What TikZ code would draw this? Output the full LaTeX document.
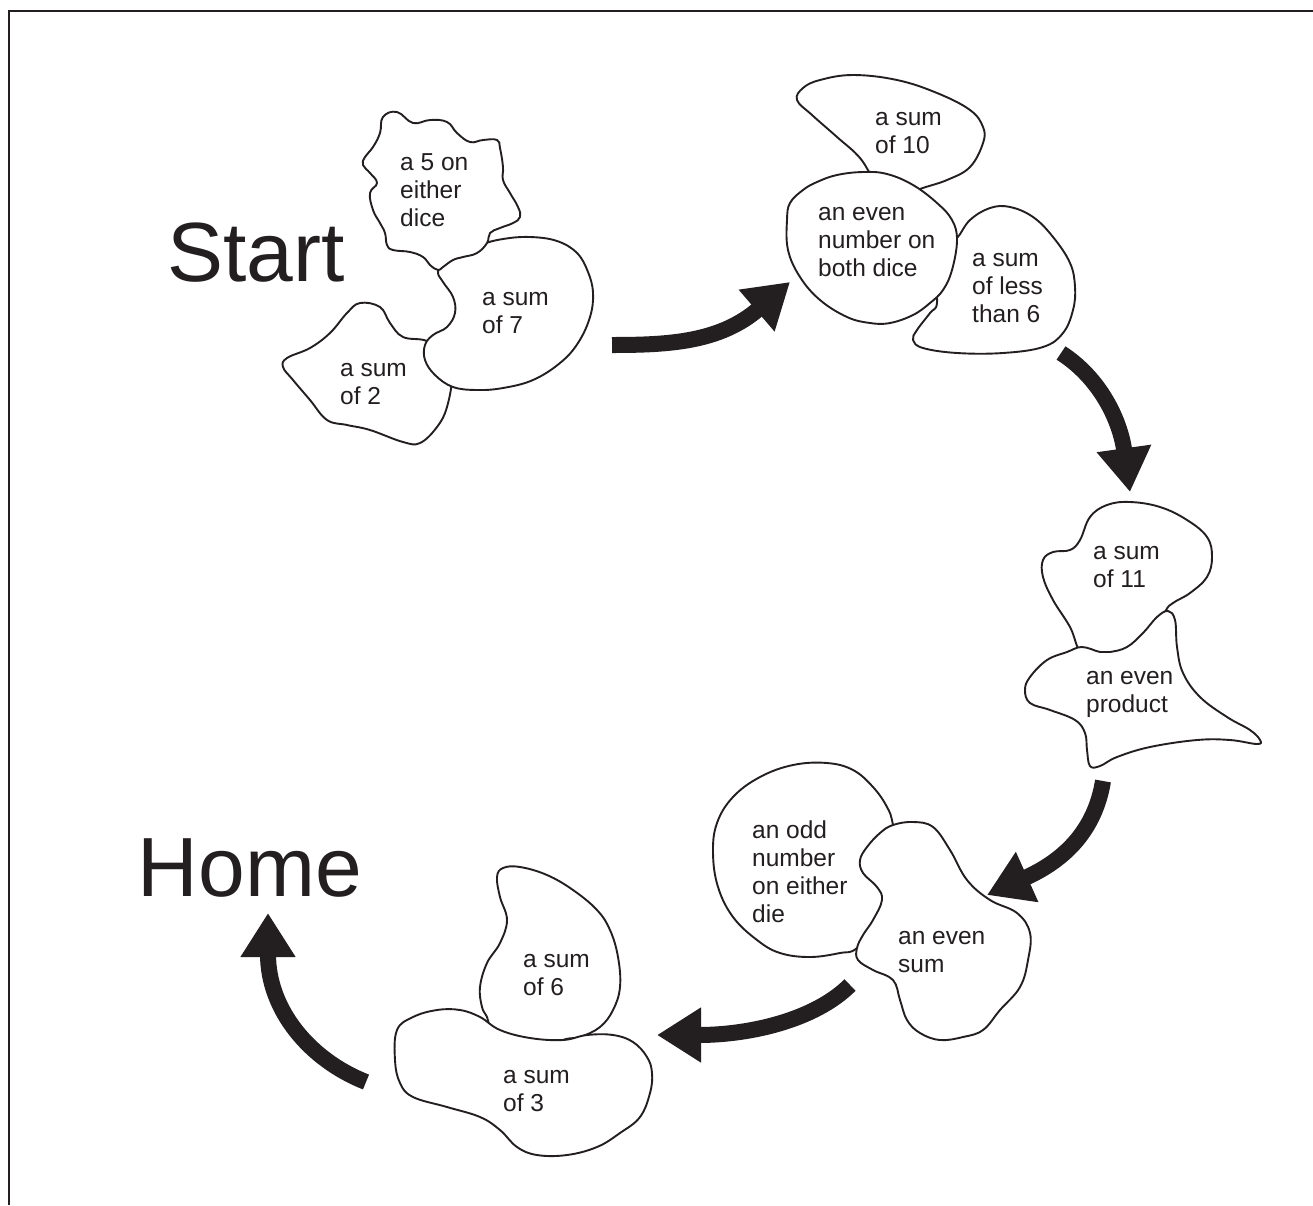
\documentclass[tikz,border=0pt]{standalone}
\usepackage{fontspec}
\setmainfont{Liberation Sans}
\usetikzlibrary{arrows.meta}
\definecolor{ink}{HTML}{231F20}
\begin{document}
\begin{tikzpicture}[x=1pt,y=-1pt,
  blob/.style={draw=ink, fill=white, line width=1.9pt, line join=round},
  lbl/.style={anchor=west, inner sep=0pt, align=left, text=ink,
    font=\fontsize{24.5}{28}\selectfont,
    execute at begin node=\strut, execute at end node=\strut},
  big/.style={anchor=base, inner sep=0pt, text=ink, font=\fontsize{84}{90}\selectfont},
  bigarrow/.style={draw=ink, line width=16pt, -{Triangle[length=44pt,width=52pt]}},
  frame/.style={draw=ink, line width=2pt}]
\useasboundingbox (0,0) rectangle (1313,1205);
\fill[white] (0,0) rectangle (1313,1205);
\draw[frame] (9,1205) -- (9,11) -- (1313,11);

% ---- group 1 ----
\draw[blob] plot[smooth cycle, tension=0.65] coordinates {(360,303) (380,307) (390,323) (403,337) (427,341) (445,355) (452,375) (447,407) (437,427) (420,443) (403,442) (370,430) (347,425) (327,420) (310,400) (293,380) (283,367) (287,358) (310,348) (330,333) (347,313)};
\draw[blob] plot[smooth cycle, tension=0.65] coordinates {(438,272) (443,282) (453,297) (455,313) (447,327) (433,335) (425,345) (425,360) (435,375) (453,387) (477,390) (503,388) (533,380) (560,363) (578,343) (590,317) (593,293) (588,272) (577,253) (557,241) (530,237) (503,239) (480,245) (460,255) (445,262)};
\draw[blob] plot[smooth cycle, tension=0.72] coordinates {(383,117) (397,112) (413,123) (430,120) (447,122) (457,133) (470,142) (483,140) (497,140) (500,148) (503,167) (503,180) (510,193) (518,207) (520,217) (513,223) (500,228) (490,233) (487,243) (477,253) (463,257) (453,260) (443,267) (438,270) (430,265) (423,257) (410,252) (393,250) (387,245) (385,233) (380,223) (373,210) (370,193) (377,183) (370,173) (363,165) (365,157) (373,147) (380,133)};

% ---- group 2 ----
\draw[blob] plot[smooth cycle, tension=0.65] coordinates {(797,100) (803,88) (820,80) (853,75) (897,80) (937,93) (970,110) (983,127) (983,143) (970,167) (947,180) (920,189) (900,198) (878,185) (860,158) (837,137) (812,115)};
\draw[blob] plot[smooth cycle, tension=0.65] coordinates {(957,238) (970,220) (990,208) (1010,207) (1033,217) (1053,237) (1070,263) (1075,287) (1073,310) (1063,333) (1043,347) (1003,353) (957,353) (923,348) (913,340) (917,330) (930,313) (937,303) (935,270) (945,245)};
\draw[blob] plot[smooth cycle, tension=0.65] coordinates {(787,220) (790,203) (803,190) (817,182) (837,175) (863,172) (887,174) (913,185) (937,203) (952,220) (957,240) (952,270) (943,290) (930,303) (913,315) (890,323) (870,323) (847,317) (820,300) (800,277) (788,250)};

% ---- group 3 ----
\draw[blob] plot[smooth cycle, tension=0.65] coordinates {(1043,560) (1053,552) (1070,550) (1080,540) (1090,517) (1107,505) (1130,502) (1160,507) (1187,520) (1207,537) (1212,557) (1207,577) (1190,593) (1173,603) (1165,612) (1150,645) (1120,662) (1085,658) (1070,627) (1053,600) (1043,577)};
\draw[blob] plot[smooth cycle, tension=0.65] coordinates {(1082,647) (1100,652) (1110,652) (1127,647) (1143,633) (1157,617) (1168,611) (1175,620) (1177,647) (1183,673) (1200,697) (1227,717) (1250,730) (1260,740) (1257,744) (1230,740) (1197,740) (1150,747) (1117,757) (1100,766) (1090,766) (1087,750) (1085,733) (1075,720) (1050,710) (1030,703) (1025,690) (1030,677) (1047,660) (1067,652)};

% ---- group 4 ----
\draw[blob] plot[smooth cycle, tension=0.65] coordinates {(893,825) (887,807) (873,787) (853,770) (827,763) (793,765) (760,777) (733,797) (717,823) (713,853) (718,887) (733,917) (757,940) (780,953) (810,957) (840,953) (857,948) (880,920) (900,870)};
\draw[blob] plot[smooth cycle, tension=0.65] coordinates {(857,948) (863,935) (873,920) (882,900) (877,887) (863,873) (860,860) (867,847) (880,833) (893,825) (913,822) (933,827) (950,850) (967,880) (990,900) (1017,913) (1030,933) (1028,960) (1020,987) (1000,1010) (983,1030) (963,1037) (940,1040) (920,1033) (907,1020) (900,1000) (893,980) (873,970) (858,960)};

% ---- group 5 ----
\draw[blob] plot[smooth cycle, tension=0.65] coordinates {(497,877) (503,868) (520,867) (547,875) (573,890) (597,910) (610,930) (618,957) (620,987) (613,1010) (600,1027) (580,1037) (563,1040) (530,1055) (495,1035) (487,1017) (482,1007) (480,987) (487,963) (500,943) (507,920) (500,897)};
\draw[blob] plot[smooth cycle, tension=0.65] coordinates {(397,1030) (413,1017) (437,1010) (460,1010) (480,1017) (500,1030) (530,1038) (563,1040) (587,1035) (613,1035) (633,1042) (647,1057) (652,1073) (650,1093) (640,1117) (620,1133) (597,1147) (567,1155) (537,1155) (517,1147) (500,1130) (480,1117) (447,1107) (413,1097) (400,1083) (395,1060)};

% ---- labels ----
\node[big] (start) at (256,281) {Start};
\node[big] (home) at (250,896) {Home};
\node[lbl] (five) at (400,194) {a 5 on\\either\\dice};
\node[lbl] (seven) at (482,317) {a sum\\of 7};
\node[lbl] (two) at (340,388) {a sum\\of 2};
\node[lbl] (ten) at (875,137) {a sum\\of 10};
\node[lbl] (evennum) at (818,246) {an even\\number on\\both dice};
\node[lbl] (less) at (972,292) {a sum\\of less\\than 6};
\node[lbl] (eleven) at (1093,571) {a sum\\of 11};
\node[lbl] (product) at (1086,696) {an even\\product};
\node[lbl] (odd) at (752,876) {an odd\\number\\on either\\die};
\node[lbl] (evensum) at (898,956) {an even\\sum};
\node[lbl] (six) at (523,979) {a sum\\of 6};
\node[lbl] (three) at (503,1095) {a sum\\of 3};

% ---- arrows ----
\coordinate (a1s) at (612,345); \coordinate (a1e) at (790,282);
\coordinate (a2s) at (1061,353); \coordinate (a2e) at (1130,492);
\coordinate (a3s) at (1103,781); \coordinate (a3e) at (987,895);
\coordinate (a4s) at (850,985); \coordinate (a4e) at (657,1035);
\coordinate (a5s) at (366,1082); \coordinate (a5e) at (268,913);
\draw[bigarrow] (a1s) .. controls (670,345) and (720,342) .. (a1e);
\draw[bigarrow] (a2s) .. controls (1100,378) and (1120,420) .. (a2e);
\draw[bigarrow] (a3s) .. controls (1095,830) and (1065,860) .. (a3e);
\draw[bigarrow] (a4s) .. controls (815,1020) and (750,1035) .. (a4e);
\draw[bigarrow] (a5s) .. controls (310,1060) and (268,1010) .. (a5e);
\end{tikzpicture}
\end{document}
